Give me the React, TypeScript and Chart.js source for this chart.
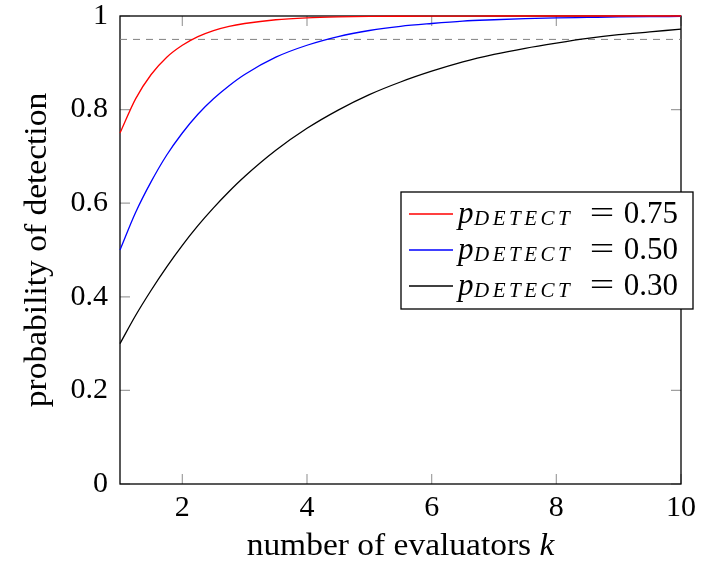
import React, { useEffect, useRef } from "react";
import { Chart, registerables } from "chart.js";

Chart.register(...registerables);

// number of evaluators k
const kValues = [1, 1.25, 1.5, 1.75, 2, 2.25, 2.5, 2.75, 3, 3.5, 4, 4.5, 5, 5.5, 6, 6.5, 7, 7.5, 8, 8.5, 9, 9.5, 10];
// probability of detection, p_DETECT = 0.75
const red075 = [0.75, 0.823, 0.875, 0.912, 0.9375, 0.956, 0.969, 0.978, 0.984, 0.992, 0.996, 0.998, 0.999, 0.9995, 0.9998, 0.9999, 1.0, 1.0, 1.0, 1.0, 1.0, 1.0, 1.0];
// p_DETECT = 0.50
const blue050 = [0.5, 0.58, 0.646, 0.703, 0.75, 0.79, 0.823, 0.851, 0.875, 0.912, 0.9375, 0.956, 0.969, 0.978, 0.984, 0.989, 0.992, 0.9945, 0.996, 0.997, 0.998, 0.9986, 0.999];
// p_DETECT = 0.30
const black030 = [0.3, 0.36, 0.414, 0.464, 0.51, 0.552, 0.59, 0.625, 0.657, 0.713, 0.76, 0.799, 0.832, 0.859, 0.882, 0.902, 0.918, 0.931, 0.942, 0.952, 0.96, 0.966, 0.972];
const thresholdK = [1, 10];
const thresholdY = [0.95, 0.95];

const xTicks = [2, 4, 6, 8, 10];
const yTicks = [0, 0.2, 0.4, 0.6, 0.8, 1];
const legendValues = ["0.75", "0.50", "0.30"];
const seriesColors = ["#ff0000", "#0000ff", "#000000"];
const xTitle = "number of evaluators ";
const xTitleVar = "k";
const yTitle = "probability of detection";

const SERIF = "'Liberation Serif', 'Times New Roman', serif";

export default function App() {
  const ref = useRef<HTMLCanvasElement | null>(null);

  useEffect(() => {
    document.body.style.margin = "0";
    const canvas = ref.current;
    if (!canvas) return;

    const series = [red075, blue050, black030];

    const framePlugin = {
      id: "frameTicks",
      beforeDatasetsDraw(chart: any) {
        const { ctx, chartArea } = chart;
        const { left, right, top, bottom } = chartArea;
        const xs = chart.scales.x;
        const ys = chart.scales.y;
        ctx.save();
        ctx.strokeStyle = "#a0a0a0";
        ctx.lineWidth = 1.2;
        const tl = 10;
        ctx.beginPath();
        for (const v of xTicks) {
          const px = xs.getPixelForValue(v);
          ctx.moveTo(px, bottom);
          ctx.lineTo(px, bottom - tl);
          ctx.moveTo(px, top);
          ctx.lineTo(px, top + tl);
        }
        for (const v of yTicks) {
          const py = ys.getPixelForValue(v);
          ctx.moveTo(left, py);
          ctx.lineTo(left + tl, py);
          ctx.moveTo(right, py);
          ctx.lineTo(right - tl, py);
        }
        ctx.stroke();
        ctx.strokeStyle = "#000";
        ctx.lineWidth = 1.3;
        ctx.strokeRect(left, top, right - left, bottom - top);
        ctx.restore();
      },
      afterDraw(chart: any) {
        const { ctx, chartArea } = chart;
        ctx.save();
        // axis titles
        ctx.fillStyle = "#000";
        ctx.textBaseline = "alphabetic";
        const cx = (chartArea.left + chartArea.right) / 2;
        ctx.font = `31px ${SERIF}`;
        const w1 = ctx.measureText(xTitle).width;
        ctx.font = `italic 31px ${SERIF}`;
        const w2 = ctx.measureText(xTitleVar).width;
        const sx = 1.08;
        ctx.save();
        ctx.translate(cx - ((w1 + w2) * sx) / 2, 555);
        ctx.scale(sx, 1);
        ctx.font = `31px ${SERIF}`;
        ctx.fillText(xTitle, 0, 0);
        ctx.font = `italic 31px ${SERIF}`;
        ctx.fillText(xTitleVar, w1, 0);
        ctx.restore();

        ctx.save();
        const cy = (chartArea.top + chartArea.bottom) / 2;
        ctx.translate(46, cy);
        ctx.rotate(-Math.PI / 2);
        ctx.scale(sx, 1);
        ctx.font = `31px ${SERIF}`;
        ctx.textAlign = "center";
        ctx.fillText(yTitle, 0, 0);
        ctx.restore();

        // legend
        const bx = 401, by = 192, bw = 292, bh = 117;
        ctx.fillStyle = "#fff";
        ctx.fillRect(bx, by, bw, bh);
        ctx.strokeStyle = "#000";
        ctx.lineWidth = 1.3;
        ctx.strokeRect(bx, by, bw, bh);
        legendValues.forEach((val, i) => {
          const ly = 214 + i * 36;
          ctx.strokeStyle = seriesColors[i];
          ctx.lineWidth = 1.3;
          ctx.beginPath();
          ctx.moveTo(409, ly);
          ctx.lineTo(453, ly);
          ctx.stroke();
          ctx.fillStyle = "#000";
          ctx.textAlign = "left";
          ctx.font = `italic 31px ${SERIF}`;
          ctx.fillText("p", 458, ly + 9);
          ctx.font = `italic 21px ${SERIF}`;
          (ctx as any).letterSpacing = "3.5px";
          ctx.fillText("DETECT", 474, ly + 11);
          (ctx as any).letterSpacing = "0px";
          ctx.font = `31px ${SERIF}`;
          ctx.textAlign = "center";
          ctx.save();
          ctx.translate(602, ly + 9);
          ctx.scale(1.4, 1);
          ctx.fillText("=", 0, 0);
          ctx.restore();
          ctx.textAlign = "right";
          ctx.fillText(val, 678, ly + 9);
        });
        ctx.restore();
      },
    };

    const lineDs = (data: number[], color: string) => ({
      data: kValues.map((k, i) => ({ x: k, y: data[i] })),
      borderColor: color,
      borderWidth: 1.3,
      pointRadius: 0,
      fill: false,
      cubicInterpolationMode: "monotone" as const,
      clip: false as any,
    });

    const chart = new Chart(canvas, {
      type: "line",
      data: {
        datasets: [
          lineDs(series[0], seriesColors[0]),
          lineDs(series[1], seriesColors[1]),
          lineDs(series[2], seriesColors[2]),
          {
            data: thresholdK.map((k, i) => ({ x: k, y: thresholdY[i] })),
            borderColor: "#808080",
            borderWidth: 1,
            borderDash: [7, 6],
            pointRadius: 0,
            fill: false,
          },
        ],
      },
      options: {
        responsive: false,
        animation: false,
        layout: { padding: { top: 16, right: 20, left: 0, bottom: 0 } },
        plugins: {
          legend: { display: false },
          tooltip: { enabled: false },
          title: { display: false },
        },
        scales: {
          x: {
            type: "linear",
            min: 1,
            max: 10,
            afterBuildTicks: (s: any) => {
              s.ticks = xTicks.map((v) => ({ value: v }));
            },
            afterFit: (s: any) => {
              s.height = 79;
              s.paddingLeft = 0;
              s.paddingRight = 0;
            },
            grid: { display: false, drawTicks: false },
            border: { display: false },
            ticks: {
              font: { family: SERIF, size: 30 },
              color: "#000",
              padding: 6,
              maxRotation: 0,
              autoSkip: false,
              callback: (v: any) => String(v),
            },
          },
          y: {
            type: "linear",
            min: 0,
            max: 1,
            afterBuildTicks: (s: any) => {
              s.ticks = yTicks.map((v) => ({ value: v }));
            },
            afterFit: (s: any) => {
              s.width = 120;
              s.paddingTop = 0;
              s.paddingBottom = 0;
            },
            grid: { display: false, drawTicks: false },
            border: { display: false },
            ticks: {
              font: { family: SERIF, size: 30 },
              color: "#000",
              padding: 12,
              autoSkip: false,
              callback: (v: any) => String(v),
            },
          },
        },
      },
      plugins: [framePlugin],
    });

    return () => chart.destroy();
  }, []);

  return (
    <div style={{ width: 701, height: 563 }}>
      <canvas ref={ref} width={701} height={563} style={{ display: "block" }} />
    </div>
  );
}
